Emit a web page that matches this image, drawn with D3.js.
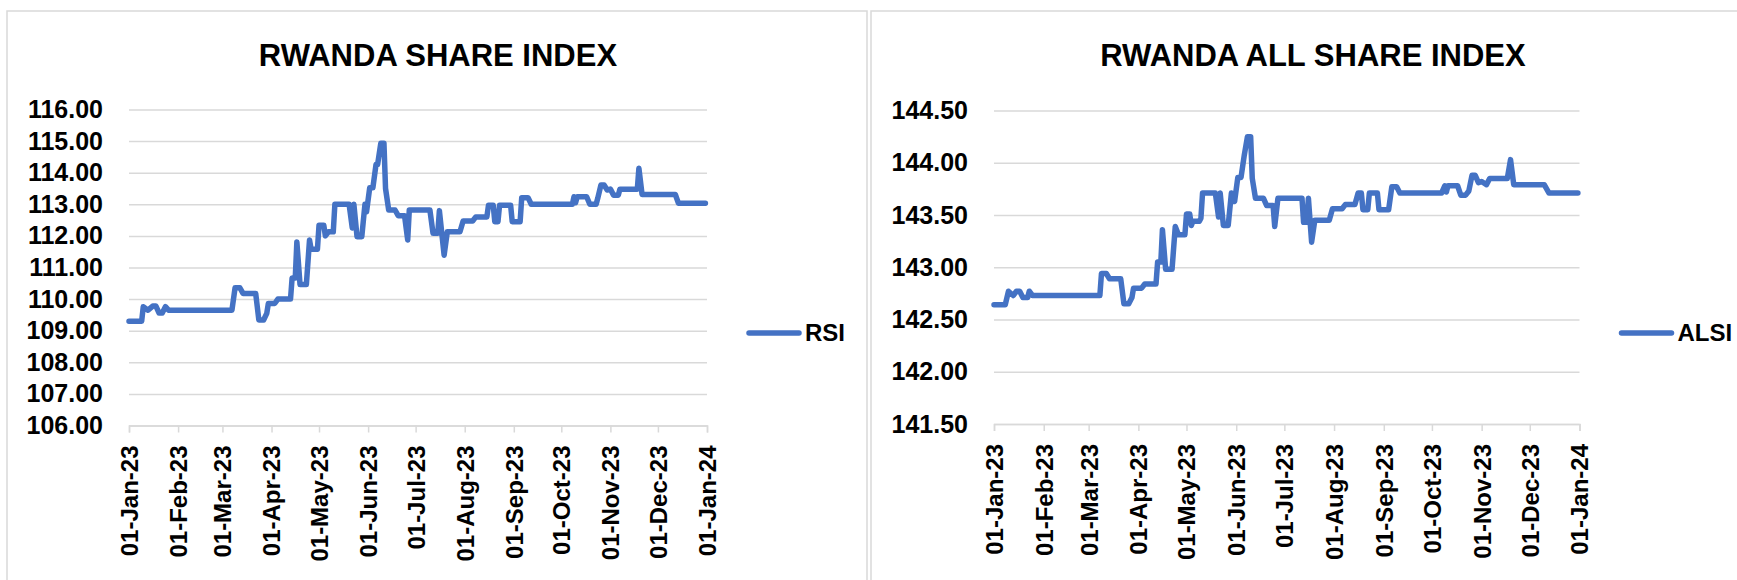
<!DOCTYPE html>
<html>
<head>
<meta charset="utf-8">
<script src="https://cdn.jsdelivr.net/npm/d3@7"></script>
<style>
  body { margin: 0; background: #fff; }
  svg { display: block; }
  text { font-family: "Liberation Sans", Arial, sans-serif; font-weight: bold; fill: #000; }
</style>
</head>
<body>
<svg id="chart" width="1737" height="580"></svg>
<script>
// month ticks shared by both charts
var monthTicks = ["2023-01-01", "2023-02-01", "2023-03-01", "2023-04-01", "2023-05-01", "2023-06-01",
    "2023-07-01", "2023-08-01", "2023-09-01", "2023-10-01", "2023-11-01", "2023-12-01", "2024-01-01"];

// RSI
var rsiDates = ["2023-01-01", "2023-01-09", "2023-01-10", "2023-01-13", "2023-01-16", "2023-01-18", "2023-01-20",
    "2023-01-22", "2023-01-24", "2023-01-26", "2023-03-07", "2023-03-09", "2023-03-12", "2023-03-14", "2023-03-22",
    "2023-03-24", "2023-03-27", "2023-03-29", "2023-03-30", "2023-04-03", "2023-04-05", "2023-04-13", "2023-04-14",
    "2023-04-16", "2023-04-17", "2023-04-19", "2023-04-23", "2023-04-25", "2023-04-26", "2023-04-30", "2023-05-01",
    "2023-05-04", "2023-05-05", "2023-05-07", "2023-05-10", "2023-05-11", "2023-05-20", "2023-05-22", "2023-05-23",
    "2023-05-25", "2023-05-28", "2023-05-30", "2023-05-31", "2023-06-02", "2023-06-04", "2023-06-06", "2023-06-07",
    "2023-06-09", "2023-06-11", "2023-06-12", "2023-06-14", "2023-06-18", "2023-06-20", "2023-06-24", "2023-06-26",
    "2023-06-27", "2023-07-10", "2023-07-12", "2023-07-15", "2023-07-16", "2023-07-19", "2023-07-21", "2023-07-29",
    "2023-07-31", "2023-08-06", "2023-08-08", "2023-08-15", "2023-08-16", "2023-08-19", "2023-08-20", "2023-08-22",
    "2023-08-23", "2023-08-30", "2023-08-31", "2023-09-05", "2023-09-06", "2023-09-10", "2023-09-12", "2023-10-08",
    "2023-10-09", "2023-10-10", "2023-10-11", "2023-10-17", "2023-10-19", "2023-10-23", "2023-10-24", "2023-10-26",
    "2023-10-28", "2023-10-30", "2023-11-01", "2023-11-03", "2023-11-06", "2023-11-07", "2023-11-18", "2023-11-19",
    "2023-11-21", "2023-12-12", "2023-12-14", "2023-12-31"];
var rsiValues = [109.30, 109.30, 109.76, 109.65, 109.78, 109.78, 109.56,
    109.56, 109.76, 109.65, 109.65, 110.36, 110.36, 110.18, 110.18,
    109.34, 109.34, 109.55, 109.86, 109.86, 110.00, 110.00, 110.67,
    110.67, 111.81, 110.46, 110.46, 111.87, 111.58, 111.58, 112.34,
    112.34, 112.00, 112.13, 112.13, 113.00, 113.00, 112.25, 113.00,
    111.97, 111.97, 113.00, 112.76, 113.52, 113.52, 114.26, 114.26,
    114.93, 114.93, 113.50, 112.82, 112.82, 112.64, 112.64, 111.87,
    112.82, 112.82, 112.08, 112.08, 112.80, 111.39, 112.13, 112.13,
    112.47, 112.47, 112.60, 112.60, 112.97, 112.97, 112.45, 112.45,
    112.97, 112.97, 112.45, 112.45, 113.21, 113.21, 113.00, 113.00,
    113.24, 113.05, 113.24, 113.24, 113.00, 113.00, 113.19, 113.61,
    113.61, 113.45, 113.48, 113.29, 113.29, 113.48, 113.48, 114.14,
    113.31, 113.31, 113.03, 113.03];
var rsiTicks = [106, 107, 108, 109, 110, 111, 112, 113, 114, 115, 116];

// ALSI
var alsiDates = ["2023-01-01", "2023-01-08", "2023-01-10", "2023-01-13", "2023-01-15", "2023-01-17", "2023-01-19",
    "2023-01-22", "2023-01-23", "2023-01-25", "2023-03-08", "2023-03-09", "2023-03-12", "2023-03-14", "2023-03-21",
    "2023-03-23", "2023-03-26", "2023-03-28", "2023-03-29", "2023-04-03", "2023-04-05", "2023-04-12", "2023-04-13",
    "2023-04-15", "2023-04-16", "2023-04-18", "2023-04-22", "2023-04-24", "2023-04-26", "2023-04-30", "2023-05-01",
    "2023-05-03", "2023-05-04", "2023-05-05", "2023-05-09", "2023-05-10", "2023-05-11", "2023-05-19", "2023-05-21",
    "2023-05-22", "2023-05-24", "2023-05-27", "2023-05-29", "2023-05-31", "2023-06-02", "2023-06-04", "2023-06-06",
    "2023-06-08", "2023-06-10", "2023-06-11", "2023-06-13", "2023-06-18", "2023-06-20", "2023-06-24", "2023-06-25",
    "2023-06-27", "2023-07-12", "2023-07-13", "2023-07-15", "2023-07-16", "2023-07-18", "2023-07-20", "2023-07-29",
    "2023-07-31", "2023-08-06", "2023-08-08", "2023-08-14", "2023-08-16", "2023-08-18", "2023-08-19", "2023-08-22",
    "2023-08-23", "2023-08-28", "2023-08-29", "2023-09-04", "2023-09-06", "2023-09-09", "2023-09-11", "2023-10-07",
    "2023-10-09", "2023-10-10", "2023-10-11", "2023-10-17", "2023-10-19", "2023-10-22", "2023-10-24", "2023-10-26",
    "2023-10-28", "2023-10-30", "2023-11-01", "2023-11-04", "2023-11-06", "2023-11-17", "2023-11-19", "2023-11-21",
    "2023-12-10", "2023-12-13", "2023-12-31"];
var alsiValues = [142.64, 142.64, 142.77, 142.73, 142.77, 142.77, 142.71,
    142.71, 142.77, 142.73, 142.73, 142.94, 142.94, 142.89, 142.89,
    142.65, 142.65, 142.71, 142.80, 142.80, 142.84, 142.84, 143.05,
    143.05, 143.36, 142.98, 142.98, 143.39, 143.31, 143.31, 143.51,
    143.51, 143.40, 143.44, 143.44, 143.47, 143.71, 143.71, 143.48,
    143.71, 143.40, 143.40, 143.71, 143.63, 143.86, 143.86, 144.07,
    144.25, 144.25, 143.85, 143.66, 143.66, 143.59, 143.59, 143.39,
    143.66, 143.66, 143.43, 143.43, 143.66, 143.24, 143.45, 143.45,
    143.56, 143.56, 143.60, 143.60, 143.71, 143.71, 143.55, 143.55,
    143.71, 143.71, 143.55, 143.55, 143.77, 143.77, 143.71, 143.71,
    143.78, 143.72, 143.78, 143.78, 143.69, 143.69, 143.73, 143.88,
    143.88, 143.81, 143.82, 143.79, 143.85, 143.85, 144.03, 143.79,
    143.79, 143.71, 143.71];
var alsiTicks = [141.5, 142, 142.5, 143, 143.5, 144, 144.5];

var parse = d3.utcParse("%Y-%m-%d");
var fmtTick = d3.utcFormat("%d-%b-%y");
var svg = d3.select("#chart");

function drawPanel(o) {
    var g = svg.append("g");

    // chart frame
    g.append("rect")
        .attr("x", o.frame[0]).attr("y", o.frame[1])
        .attr("width", o.frame[2]).attr("height", o.frame[3])
        .attr("fill", "none").attr("stroke", "#d9d9d9").attr("stroke-width", 1.5);

    g.append("text")
        .attr("x", o.titleX).attr("y", 66)
        .attr("text-anchor", "middle")
        .style("font-size", "31px")
        .text(o.title);

    var x = d3.scaleUtc()
        .domain([parse(monthTicks[0]), parse(monthTicks[monthTicks.length - 1])])
        .range([o.left, o.right]);
    var y = d3.scaleLinear()
        .domain(d3.extent(o.ticks))
        .range([o.bottom, o.top]);

    // gridlines + y labels
    var yAxis = g.append("g")
        .attr("transform", "translate(" + o.left + ",0)")
        .call(d3.axisLeft(y).tickValues(o.ticks).tickSize(-(o.right - o.left)).tickPadding(26)
            .tickFormat(d3.format(".2f")));
    yAxis.select(".domain").remove();
    yAxis.selectAll(".tick line").attr("stroke", "#d9d9d9").attr("stroke-width", 1.5);
    yAxis.selectAll(".tick text")
        .style("font-size", "25px")
        .attr("font-family", null);

    // x axis
    var xAxis = g.append("g")
        .attr("transform", "translate(0," + o.bottom + ")")
        .call(d3.axisBottom(x).tickValues(monthTicks.map(parse)).tickSize(7).tickFormat(fmtTick));
    xAxis.select(".domain").attr("stroke", "#d9d9d9").attr("stroke-width", 1.5);
    xAxis.selectAll(".tick line").attr("stroke", "#d9d9d9").attr("stroke-width", 1.5);
    xAxis.selectAll(".tick text")
        .attr("font-family", null)
        .style("font-size", "24px")
        .attr("text-anchor", "end")
        .attr("transform", "rotate(-90)")
        .attr("x", -20)
        .attr("y", 0)
        .attr("dy", "0.35em");

    var pts = o.dates.map(function(d, i) { return [parse(d), o.values[i]]; });
    var line = d3.line()
        .x(function(d) { return x(d[0]); })
        .y(function(d) { return y(d[1]); });

    g.append("path")
        .datum(pts)
        .attr("d", line)
        .attr("fill", "none")
        .attr("stroke", "#4472c4")
        .attr("stroke-width", 5.5)
        .attr("stroke-linejoin", "round")
        .attr("stroke-linecap", "round");

    // legend
    var ly = 333;
    g.append("line")
        .attr("x1", o.right + 42).attr("x2", o.right + 92)
        .attr("y1", ly).attr("y2", ly)
        .attr("stroke", "#4472c4").attr("stroke-width", 5.5).attr("stroke-linecap", "round");
    g.append("text")
        .attr("x", o.right + 98).attr("y", ly).attr("dy", "0.35em")
        .style("font-size", "24px")
        .text(o.name);
}

drawPanel({
    title: "RWANDA SHARE INDEX", name: "RSI",
    dates: rsiDates, values: rsiValues, ticks: rsiTicks,
    frame: [7, 11, 860, 600], titleX: 438,
    left: 129, right: 707, top: 109.5, bottom: 425.5
});

drawPanel({
    title: "RWANDA ALL SHARE INDEX", name: "ALSI",
    dates: alsiDates, values: alsiValues, ticks: alsiTicks,
    frame: [871, 11, 900, 600], titleX: 1313,
    left: 994, right: 1579.5, top: 110.5, bottom: 424
});
</script>
</body>
</html>
